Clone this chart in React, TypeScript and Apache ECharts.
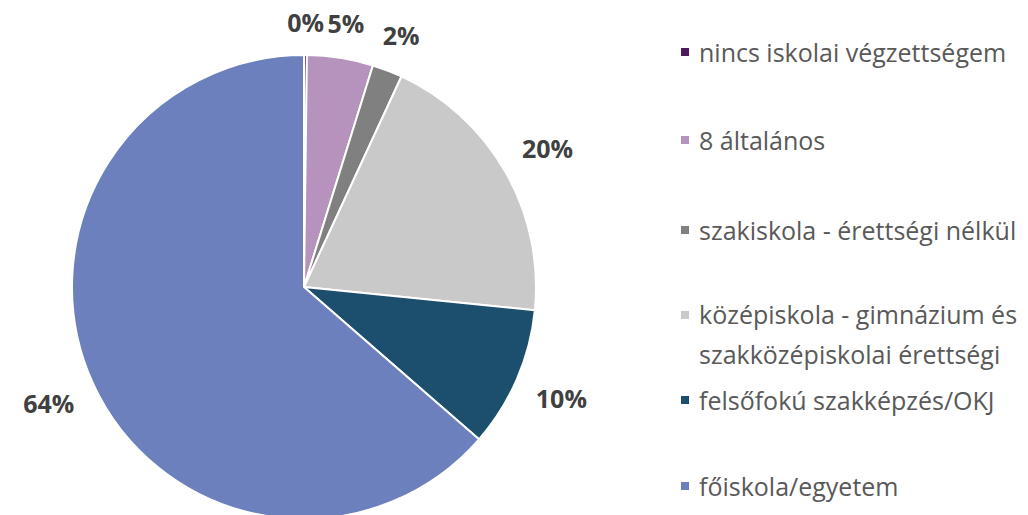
import React, { useEffect, useRef } from "react";
import * as echarts from "echarts";

const categories = [
  "nincs iskolai végzettségem",
  "8 általános",
  "szakiskola - érettségi nélkül",
  "középiskola - gimnázium és\nszakközépiskolai érettségi",
  "felsőfokú szakképzés/OKJ",
  "főiskola/egyetem",
];
const values = [0.2, 4.6, 2.1, 19.7, 9.8, 63.6];
const colors = ["#4E1A5F", "#B593BD", "#808080", "#C9C9C9", "#1B4F6D", "#6B80BD"];
const legendIconCenters = [52, 140, 230, 315, 400, 486];

const CX = 304;
const CY = 287;
const R = 232;
const GAP = 20;

const SQUARE = "path://M0,0L10,0L10,10L0,10Z";
const TALL = "path://M0,0L10,0L10,10L0,10Z M0,47.99L0.01,47.99L0.01,48L0,48Z";

export default function App() {
  const ref = useRef<HTMLDivElement>(null);
  useEffect(() => {
    if (!ref.current) return;
    const chart = echarts.init(ref.current, null, { renderer: "svg" });
    const total = values.reduce((a, b) => a + b, 0);
    const legends = categories.map((name, i) => {
      const two = name.indexOf("\n") >= 0;
      const ih = two ? 48 : 10;
      return {
        show: true,
        orient: "vertical" as const,
        left: 679,
        top: two ? legendIconCenters[i] - 5 - 16 : legendIconCenters[i] - 20,
        padding: 0,
        data: [{ name, icon: two ? TALL : SQUARE }],
        itemWidth: 10,
        itemHeight: ih,
        itemGap: 0,
        selectedMode: false,
        textStyle: {
          fontFamily: "Open Sans",
          fontSize: 25,
          color: "#595959",
          lineHeight: 40,
          padding: [0, 0, 0, 4],
        },
      };
    });
    chart.setOption({
      animation: false,
      legend: legends,
      series: [
        {
          type: "pie",
          center: [CX, CY],
          radius: R,
          startAngle: 90,
          clockwise: true,
          avoidLabelOverlap: false,
          data: categories.map((name, i) => ({
            name,
            value: values[i],
            itemStyle: { color: colors[i] },
          })),
          itemStyle: { borderColor: "#ffffff", borderWidth: 2 },
          label: {
            show: true,
            position: "outside",
            formatter: (p: any) => Math.round((p.value / total) * 100) + "%",
            fontFamily: "Open Sans",
            fontWeight: "bold",
            fontSize: 25,
            color: "#404040",
          },
          labelLine: { show: false },
          labelLayout: (p: any) => {
            const i = p.dataIndex;
            let cum = 0;
            for (let k = 0; k < i; k++) cum += values[k];
            const mid = ((cum + values[i] / 2) / total) * Math.PI * 2;
            const s = Math.sin(mid);
            const c = Math.cos(mid);
            const w = p.labelRect.width;
            const h = p.labelRect.height;
            const ext = (w / 2) * Math.abs(s) + (h / 2) * Math.abs(c);
            const d = R + GAP + ext;
            return {
              x: CX + d * s,
              y: CY - d * c,
              align: "center",
              verticalAlign: "middle",
            };
          },
        },
      ],
    });
    return () => chart.dispose();
  }, []);
  return (
    <div
      ref={ref}
      style={{ position: "absolute", left: 0, top: 0, width: 1028, height: 515 }}
    />
  );
}
